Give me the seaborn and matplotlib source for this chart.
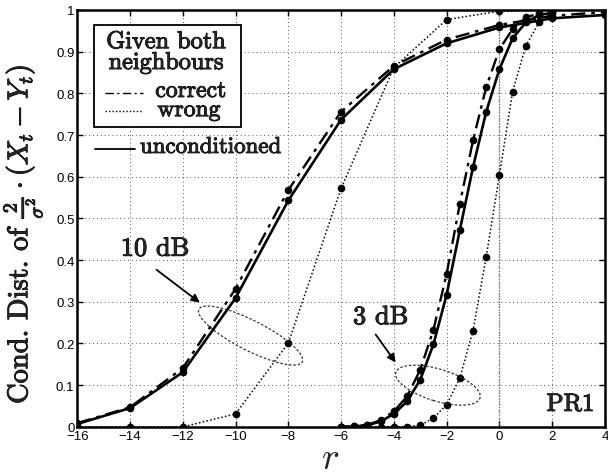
import matplotlib
matplotlib.use("Agg")
import matplotlib.pyplot as plt
import matplotlib.transforms as mtransforms
import matplotlib.patheffects as pe
from matplotlib.patches import Ellipse, Rectangle
from matplotlib.lines import Line2D
import seaborn as sns
import pandas as pd

# --- dados ---
r_10 = [-16, -14, -12, -10, -8, -6, -4, -2, 0, 2, 4]
uncond_10 = [0.007, 0.045, 0.131, 0.309, 0.543, 0.737, 0.858, 0.920, 0.958, 0.980, 0.988]
correct_10 = [0.009, 0.047, 0.141, 0.331, 0.568, 0.756, 0.866, 0.929, 0.964, 0.986, 0.995]
wrong_10 = [0.0, 0.0, 0.0, 0.031, 0.201, 0.572, 0.862, 0.977, 0.997, 1.0]
r_10_wrong = [-16, -14, -12, -10, -8, -6, -4, -2, 0, 2]

r_3 = [-6, -5.5, -5, -4.5, -4, -3.5, -3, -2.5, -2, -1.5, -1, -0.5, 0, 0.5, 1, 1.5, 2]
uncond_3 = [0.0, 0.001, 0.004, 0.013, 0.031, 0.061, 0.113, 0.198, 0.317, 0.472,
            0.623, 0.756, 0.858, 0.932, 0.970, 0.988, 0.993]
correct_3 = [0.0, 0.001, 0.005, 0.016, 0.037, 0.073, 0.137, 0.233, 0.367, 0.535,
             0.687, 0.815, 0.906, 0.954, 0.982, 0.992, 0.997]
wrong_3 = [0.0, 0.0, 0.0, 0.0, 0.0, 0.0, 0.004, 0.021, 0.053, 0.117,
           0.231, 0.408, 0.604, 0.804, 0.914, 0.970, 0.995]

x_ticks = list(range(-16, 5, 2))
y_ticks = [0, 0.1, 0.2, 0.3, 0.4, 0.5, 0.6, 0.7, 0.8, 0.9, 1]
y_tick_labels = ["0", "0.1", "0.2", "0.3", "0.4", "0.5", "0.6", "0.7", "0.8", "0.9", "1"]

SERIF = "cmr10"
DASHDOT = (0, (6, 2.5, 1.5, 2.5))
DOTTED = (0, (1, 1.5))
NEGRITO = [pe.withStroke(linewidth=0.7, foreground="black")]

sns.set_theme(style="ticks")
plt.rcParams.update({
    "font.family": ["Liberation Sans", "DejaVu Sans"],
    "mathtext.fontset": "cm",
    "xtick.direction": "in",
    "ytick.direction": "in",
    "axes.unicode_minus": True,
})

fig = plt.figure(figsize=(6.08, 4.77), dpi=100)
ax = fig.add_axes([0.127, 0.103, 0.868, 0.874])


def _curva(x, y, estilo, lw):
    df = pd.DataFrame({"r": x, "p": y})
    sns.lineplot(data=df, x="r", y="p", ax=ax, color="black", linestyle=estilo,
                 linewidth=lw, marker="o", markersize=5.5, markeredgewidth=0,
                 errorbar=None, sort=True, legend=False)


def _texto(x, y, s, size, **kw):
    t = ax.text(x, y, s, fontsize=size, fontfamily=SERIF, **kw)
    t.set_path_effects(NEGRITO)
    return t


# linha vertical em r = 0
ax.axvline(0, color="#777777", linestyle=(0, (1, 1)), linewidth=1.0, zorder=1)

_curva(r_10_wrong, wrong_10, DOTTED, 1.1)
_curva(r_3, wrong_3, DOTTED, 1.1)
_curva(r_10, correct_10, DASHDOT, 1.7)
_curva(r_3, correct_3, DASHDOT, 1.7)
_curva(r_10, uncond_10, "-", 1.9)
_curva(r_3, uncond_3, "-", 1.9)

ax.set_xlim(-16, 4)
ax.set_ylim(0, 1)
ax.set_xticks(x_ticks)
ax.set_yticks(y_ticks)
ax.set_yticklabels(y_tick_labels)
ax.tick_params(labelsize=9.5, length=4, width=1, top=True, right=True, pad=2,
               colors="black")
ax.grid(True, color="#555555", linestyle=(0, (1, 3)), linewidth=0.7)
for s in ax.spines.values():
    s.set_linewidth(1.8)
    s.set_color("black")

ax.set_xlabel("$r$", fontsize=27)
ax.xaxis.set_label_coords(0.48, -0.032)
yl = ax.set_ylabel(r"Cond. Dist. of $\frac{2}{\sigma^2}\cdot(X_t - Y_t)$",
                   fontsize=20.5, fontfamily=SERIF)
yl.set_path_effects(NEGRITO)
ax.yaxis.set_label_coords(-0.062, 0.462)

# elipses (anotacao)
def _elipse(cx, cy, w_px, h_px, ang):
    tr = fig.dpi_scale_trans + mtransforms.ScaledTranslation(cx, cy, ax.transData)
    ax.add_patch(Ellipse((0, 0), w_px / 100, h_px / 100, angle=ang, transform=tr,
                         fill=False, edgecolor="#333333", linewidth=0.9,
                         linestyle=(0, (2, 1.5)), zorder=5))

_elipse(-9.43, 0.219, 116, 30, -27)
_elipse(-2.33, 0.100, 88, 32, -17)

seta = dict(arrowstyle="-|>", color="black", lw=1.3, mutation_scale=12)
ax.annotate("", xy=(-11.27, 0.294), xytext=(-13.08, 0.381), arrowprops=seta)
ax.annotate("", xy=(-3.87, 0.149), xytext=(-4.75, 0.227), arrowprops=seta)
_texto(-13.05, 0.427, "10 dB", 19, ha="center", va="center")
_texto(-4.5, 0.263, "3 dB", 19, ha="center", va="center")
_texto(3.6, 0.053, "PR1", 18, ha="right", va="center")

# legenda desenhada a mao
ax.add_patch(Rectangle((0.031, 0.720), 0.280, 0.244, transform=ax.transAxes,
                       fill=True, facecolor="white", edgecolor="black",
                       linewidth=1.3, zorder=6))
kw = dict(transform=ax.transAxes, zorder=7, va="center")
_texto(0.168, 0.923, "Given both", 17.5, ha="center", **kw)
_texto(0.168, 0.873, "neighbours", 17.5, ha="center", **kw)
ax.add_line(Line2D([0.053, 0.125], [0.801, 0.801], transform=ax.transAxes,
                   color="black", linestyle=DASHDOT, linewidth=1.0, zorder=7))
ax.add_line(Line2D([0.053, 0.125], [0.758, 0.758], transform=ax.transAxes,
                   color="black", linestyle=DOTTED, linewidth=1.0, zorder=7))
_texto(0.148, 0.806, "correct", 17, ha="left", **kw)
_texto(0.152, 0.760, "wrong", 17, ha="left", **kw)
ax.add_line(Line2D([0.034, 0.110], [0.667, 0.667], transform=ax.transAxes,
                   color="black", linestyle="-", linewidth=1.3, zorder=7))
_texto(0.119, 0.671, "unconditioned", 16.5, ha="left", **kw)

fig.savefig("out.png", dpi=100)
